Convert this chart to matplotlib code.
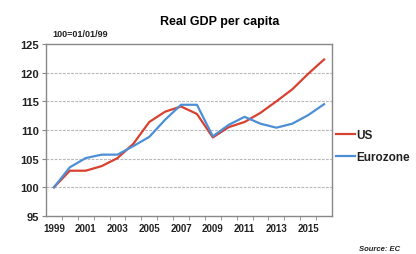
import matplotlib
matplotlib.use("Agg")
import matplotlib.pyplot as plt

years = list(range(1999, 2017))
us = [100, 102.9, 102.9, 103.7, 105.1, 107.6, 111.4, 113.2, 114.1, 112.8,
      108.7, 110.5, 111.4, 113.0, 115.0, 117.1, 119.8, 122.3]
euro = [100, 103.5, 105.1, 105.7, 105.7, 107.2, 108.8, 111.8, 114.4, 114.4,
        108.9, 110.9, 112.3, 111.1, 110.4, 111.1, 112.6, 114.5]
yticks = [95, 100, 105, 110, 115, 120, 125]
xlabels = ["1999", "2001", "2003", "2005", "2007", "2009", "2011", "2013", "2015"]

plt.rcParams['font.family'] = ['Liberation Sans', 'DejaVu Sans']

fig = plt.figure(figsize=(4.16, 2.55), dpi=100)
ax = fig.add_axes([46/416, 1-217/255, (332-46)/416, (217-45)/255])

x = list(range(len(years)))
ax.plot(x, us, color='#d8412f', lw=1.6, label='US', zorder=3)
ax.plot(x, euro, color='#4d8fd6', lw=1.6, label='Eurozone', zorder=3)

ax.set_xlim(-0.5, len(years) - 0.5)
ax.set_ylim(95, 125)
ax.set_yticks(yticks)
ax.set_yticklabels([str(v) for v in yticks], fontsize=8, fontweight='bold', color='#222222')
for v in yticks[1:-1]:
    ax.axhline(v, color='#b8b8b8', lw=0.8, ls=(0, (2.5, 1.2)), zorder=1)

ax.set_xticks([i for i in range(len(years)) if years[i] % 2 == 1])
ax.set_xticklabels(xlabels, fontsize=7, fontweight='bold', color='#222222')
ax.tick_params(axis='x', length=0, pad=5)
ax.set_xticks([i + 0.5 for i in range(len(years) - 1)], minor=True)
ax.tick_params(axis='x', which='minor', length=3, color='#888888')
ax.tick_params(axis='y', length=3, color='#888888', pad=2)
for s in ax.spines.values():
    s.set_color('#888888')
    s.set_linewidth(1.0)

fig.text(220/416, 1-22/255, 'Real GDP per capita', ha='center', va='center',
         fontsize=9, fontweight='bold')
fig.text(52/416, 1-35/255, '100=01/01/99', ha='left', va='center',
         fontsize=6.5, fontweight='bold', color='#222222')
fig.text(400/416, 1-250/255, 'Source: EC', ha='right', va='center',
         fontsize=5.5, fontweight='bold', style='italic', color='#222222')

leg = fig.legend(loc='center left', bbox_to_anchor=(336/416, 1-147/255), frameon=False,
                 fontsize=8.5, handlelength=1.6, handletextpad=0.1, labelspacing=0.8,
                 borderaxespad=0, borderpad=0)
for t in leg.get_texts():
    t.set_fontweight('bold')
    t.set_color('#222222')

fig.savefig('out.png', dpi=100)
